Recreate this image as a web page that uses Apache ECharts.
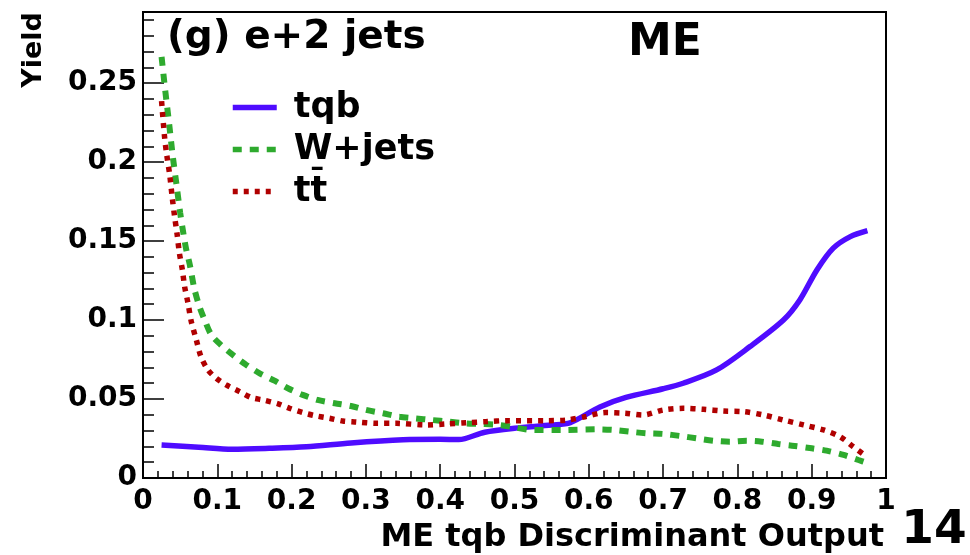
<!DOCTYPE html>
<html>
<head>
<meta charset="utf-8">
<script src="https://cdn.jsdelivr.net/npm/echarts@6/dist/echarts.min.js"></script>
<style>html,body{margin:0;padding:0;background:#fff;}#chart{width:970px;height:555px;}</style>
</head>
<body>
<div id="chart"></div>
<script>
// ---- data ----
var xTickLabels = ['0','0.1','0.2','0.3','0.4','0.5','0.6','0.7','0.8','0.9','1'];
var yTickLabels = ['0','0.05','0.1','0.15','0.2','0.25'];
var seriesNames = ['tqb', 'W+jets', 'tt\u0304'];

var tqbX = [0.025,0.075,0.12,0.17,0.22,0.28,0.35,0.40,0.425,0.46,0.50,0.55,0.575,0.615,0.65,0.70,0.727,0.772,0.817,0.862,0.884,0.907,0.929,0.952,0.975];
var tqbY = [0.0209,0.0195,0.0182,0.0188,0.0198,0.0222,0.0242,0.0245,0.0243,0.0290,0.0315,0.0335,0.0350,0.0450,0.0510,0.0565,0.0600,0.0684,0.0832,0.1000,0.1127,0.1317,0.1455,0.1528,0.1566];

var wjetsX = [0.025,0.030,0.035,0.040,0.045,0.050,0.055,0.058,0.063,0.069,0.076,0.083,0.092,0.105,0.121,0.139,0.157,0.177,0.195,0.215,0.235,0.258,0.280,0.300,0.323,0.345,0.366,0.389,0.411,0.433,0.456,0.478,0.500,0.523,0.566,0.611,0.633,0.655,0.678,0.700,0.723,0.745,0.768,0.790,0.8125,0.833,0.855,0.877,0.900,0.920,0.943,0.963,0.975];
var wjetsY = [0.2666,0.2450,0.2250,0.2040,0.1860,0.1680,0.1530,0.1450,0.1350,0.1200,0.1085,0.1000,0.0906,0.0842,0.0779,0.0716,0.0663,0.0616,0.0568,0.0526,0.0494,0.0473,0.0456,0.0431,0.0410,0.0388,0.0378,0.0367,0.0357,0.0346,0.0342,0.0336,0.0321,0.0304,0.0304,0.0308,0.0304,0.0293,0.0283,0.0279,0.0266,0.0251,0.0236,0.0230,0.0236,0.0230,0.0215,0.0203,0.0188,0.0173,0.0146,0.0114,0.0095];

var ttbarX = [0.025,0.029,0.032,0.036,0.0395,0.0426,0.0458,0.049,0.053,0.056,0.0606,0.065,0.0718,0.078,0.0875,0.0987,0.112,0.130,0.146,0.1615,0.182,0.1975,0.215,0.233,0.251,0.269,0.287,0.314,0.341,0.380,0.409,0.436,0.4625,0.489,0.543,0.570,0.595,0.622,0.649,0.673,0.700,0.727,0.754,0.781,0.808,0.835,0.862,0.889,0.916,0.938,0.956,0.974];
var ttbarY = [0.2386,0.2160,0.2044,0.1917,0.1769,0.1653,0.1547,0.1423,0.1317,0.1212,0.1106,0.0990,0.0874,0.0768,0.0684,0.0631,0.0589,0.0547,0.0509,0.0494,0.0469,0.0441,0.0414,0.0393,0.0378,0.0361,0.0355,0.0346,0.0346,0.0336,0.0342,0.0350,0.0357,0.0363,0.0363,0.0367,0.0388,0.0414,0.0410,0.0399,0.0430,0.0441,0.0435,0.0424,0.0420,0.0399,0.0367,0.0336,0.0304,0.0262,0.0198,0.0135];

function pairs(xs, ys) { return xs.map(function (x, i) { return [x, ys[i]]; }); }

var FONT = 'DejaVu Sans';
var chart = echarts.init(document.getElementById('chart'), null, {renderer: 'canvas'});

var yMax = 0.295;

chart.setOption({
  animation: false,
  backgroundColor: '#ffffff',
  grid: {left: 143, top: 12, right: 84, bottom: 77, show: true, borderColor: '#000', borderWidth: 2, backgroundColor: 'transparent'},
  xAxis: {
    type: 'value', min: 0, max: 1, interval: 0.1,
    axisLine: {show: true, onZero: false, lineStyle: {color: '#000', width: 2}},
    axisTick: {show: true, inside: true, length: 14, lineStyle: {color: '#000', width: 1.5}},
    minorTick: {show: true, splitNumber: 5, length: 7, lineStyle: {color: '#000', width: 1.5}},
    splitLine: {show: false},
    axisLabel: {
      color: '#000', fontFamily: FONT, fontWeight: 'bold', fontSize: 28, margin: 10,
      formatter: function (v) { var i = Math.round(v * 10); return Math.abs(v * 10 - i) < 1e-6 ? xTickLabels[i] : ''; }
    }
  },
  yAxis: {
    type: 'value', min: 0, max: yMax, interval: 0.05,
    axisLine: {show: true, onZero: false, lineStyle: {color: '#000', width: 2}},
    axisTick: {show: true, inside: true, length: 21, lineStyle: {color: '#000', width: 1.5}},
    minorTick: {show: true, splitNumber: 5, length: 11, lineStyle: {color: '#000', width: 1.5}},
    splitLine: {show: false},
    axisLabel: {
      color: '#000', fontFamily: FONT, fontWeight: 'bold', fontSize: 28, margin: 6, showMaxLabel: false,
      formatter: function (v) { var i = Math.round(v / 0.05); return (Math.abs(v / 0.05 - i) < 1e-6 && i < yTickLabels.length) ? yTickLabels[i] : ''; }
    }
  },
  legend: {
    orient: 'vertical', left: 230, top: 90, padding: 0, itemGap: 7,
    itemWidth: 44, itemHeight: 35,
    itemStyle: {opacity: 0},
    lineStyle: {width: 5.5},
    textStyle: {color: '#000', fontFamily: FONT, fontWeight: 'bold', fontSize: 35, lineHeight: 35, padding: [0, 0, 0, 12]},
    data: seriesNames
  },
  series: [
    {name: seriesNames[0], type: 'line', symbol: 'none', smooth: 0.3, data: pairs(tqbX, tqbY),
     lineStyle: {color: '#4f0cff', width: 5.5, type: 'solid'}, itemStyle: {color: '#4f0cff'}},
    {name: seriesNames[1], type: 'line', symbol: 'none', smooth: 0.3, data: pairs(wjetsX, wjetsY),
     lineStyle: {color: '#2eaa2e', width: 6, type: [9, 8]}, itemStyle: {color: '#2eaa2e'}},
    {name: seriesNames[2], type: 'line', symbol: 'none', smooth: 0.3, data: pairs(ttbarX, ttbarY),
     lineStyle: {color: '#b00000', width: 5.5, type: [5, 6]}, itemStyle: {color: '#b00000'}}
  ],
  graphic: [
    {type: 'text', x: 167, y: 38, style: {text: '(g) e+2 jets', font: 'bold 39px "DejaVu Sans"', fill: '#000', align: 'left', verticalAlign: 'middle'}},
    {type: 'text', x: 665, y: 44, style: {text: 'ME', font: 'bold 44px "DejaVu Sans"', fill: '#000', align: 'center', verticalAlign: 'middle'}},
    {type: 'text', x: 34, y: 50, rotation: Math.PI / 2, style: {text: 'Yield', font: 'bold 27px "DejaVu Sans"', fill: '#000', align: 'center', verticalAlign: 'middle'}},
    {type: 'text', x: 884, y: 537.6, style: {text: 'ME tqb Discriminant Output', font: 'bold 32px "DejaVu Sans"', fill: '#000', align: 'right', verticalAlign: 'middle'}},
    {type: 'text', x: 934, y: 530.7, style: {text: '14', font: 'bold 47px "DejaVu Sans"', fill: '#000', align: 'center', verticalAlign: 'middle'}}
  ]
});
</script>
</body>
</html>
